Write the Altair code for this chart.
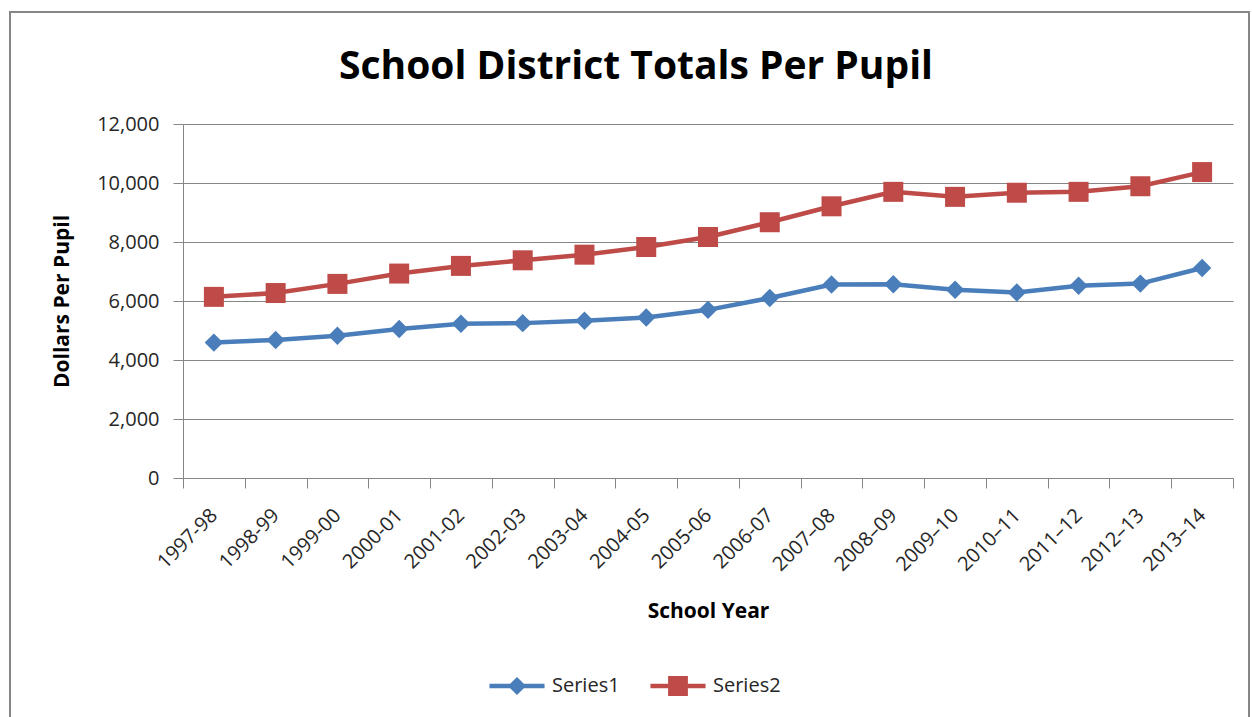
import altair as alt
import pandas as pd

years = ["1997-98", "1998-99", "1999-00", "2000-01", "2001-02", "2002-03",
         "2003-04", "2004-05", "2005-06", "2006-07", "2007–08", "2008–09",
         "2009–10", "2010–11", "2011–12", "2012–13", "2013–14"]
series1 = [4590, 4680, 4820, 5050, 5230, 5250, 5330, 5440, 5700, 6100,
           6560, 6570, 6380, 6290, 6520, 6590, 7120]
series2 = [6140, 6270, 6580, 6930, 7190, 7380, 7570, 7830, 8170, 8670,
           9210, 9700, 9530, 9670, 9700, 9890, 10370]
series_names = ["Series1", "Series2"]
y_ticks = [0, 2000, 4000, 6000, 8000, 10000, 12000]

rows = []
for name, vals in zip(series_names, [series1, series2]):
    for yr, v in zip(years, vals):
        rows.append({"year": yr, "series": name, "value": v})
df = pd.DataFrame(rows)

FONT = "Open Sans"
GRAY = "#868686"
TXT = "#262626"
BLUE = "#4A7EBB"
RED = "#BE4B48"

diamond_leg = ("M-3.06,-0.24L-0.76,-0.24L0,-1L0.76,-0.24L3.06,-0.24L3.06,0.24"
               "L0.76,0.24L0,1L-0.76,0.24L-3.06,0.24Z")
square_leg = ("M-3.06,-0.24L-1.1,-0.24L-1.1,-1.1L1.1,-1.1L1.1,-0.24L3.06,-0.24"
              "L3.06,0.24L1.1,0.24L1.1,1.1L-1.1,1.1L-1.1,0.24L-3.06,0.24Z")

x_enc = alt.X(
    "year:N", sort=years,
    scale=alt.Scale(type="band", paddingInner=0, paddingOuter=0),
    axis=alt.Axis(
        title="School Year", tickBand="extent", labelAngle=-45,
        labelAlign="right", labelBaseline="middle", labelPadding=24,
        grid=False, tickSize=10, tickColor=GRAY, domainColor=GRAY,
        labelFont=FONT, labelFontSize=20, labelColor=TXT,
        titleFont=FONT, titleFontSize=21, titleFontWeight="bold",
        titleColor="#000000", titlePadding=26,
    ),
)
y_enc = alt.Y(
    "value:Q",
    scale=alt.Scale(domain=[0, 12000], nice=False),
    axis=alt.Axis(
        title="Dollars Per Pupil", values=y_ticks, format=",.0f",
        tickSize=10, tickColor=GRAY, domainColor=GRAY, gridColor=GRAY,
        labelFont=FONT, labelFontSize=20, labelColor=TXT, labelPadding=14,
        titleFont=FONT, titleFontSize=21, titleFontWeight="bold",
        titleColor="#000000", titlePadding=24,
    ),
)

base = alt.Chart(df)
s1 = base.transform_filter(alt.datum.series == "Series1")
s2 = base.transform_filter(alt.datum.series == "Series2")

line1 = s1.mark_line(strokeWidth=4.5, color=BLUE).encode(x=x_enc, y=y_enc)
line2 = s2.mark_line(strokeWidth=4.5, color=RED).encode(x=x_enc, y=y_enc)
pts1 = s1.mark_point(shape="diamond", filled=True, size=340, opacity=1,
                     color=BLUE).encode(x=x_enc, y=y_enc)
pts2 = s2.mark_point(shape="square", filled=True, size=400, opacity=1,
                     color=RED).encode(x=x_enc, y=y_enc)

leg = alt.Legend(
    title=None, orient="none", legendX=324, legendY=552, direction="horizontal",
    symbolSize=324, symbolOpacity=1, symbolStrokeWidth=0, labelOffset=25,
    columnPadding=30, labelFont=FONT, labelFontSize=20, labelColor=TXT,
)
legend_layer = base.mark_point(filled=True, opacity=0).encode(
    x=x_enc, y=y_enc,
    color=alt.Color("series:N",
                    scale=alt.Scale(domain=series_names, range=[BLUE, RED]),
                    legend=leg),
    shape=alt.Shape("series:N",
                    scale=alt.Scale(domain=series_names,
                                    range=[diamond_leg, square_leg]),
                    legend=leg),
)

title = alt.Chart(alt.Data(values=[{}])).mark_text(
    text="School District Totals Per Pupil", font=FONT, fontSize=39,
    fontWeight="bold", color="#000000", align="center", baseline="middle",
).encode(x=alt.value(453), y=alt.value(-57))

border = alt.Chart(alt.Data(values=[{}])).mark_rect(
    fill=None, stroke=GRAY, strokeWidth=2
).encode(x=alt.value(-173), x2=alt.value(1066),
         y=alt.value(-112), y2=alt.value(620))

chart = alt.layer(border, line1, line2, pts1, pts2, legend_layer, title).properties(
    width=1050, height=354,
    padding={"left": 183, "top": 124, "right": 19, "bottom": 239},
    autosize=alt.AutoSizeParams(type="none"),
    background="white",
).configure_view(stroke=None)

chart.save("out.html", embed_options={"renderer": "svg", "actions": False})
